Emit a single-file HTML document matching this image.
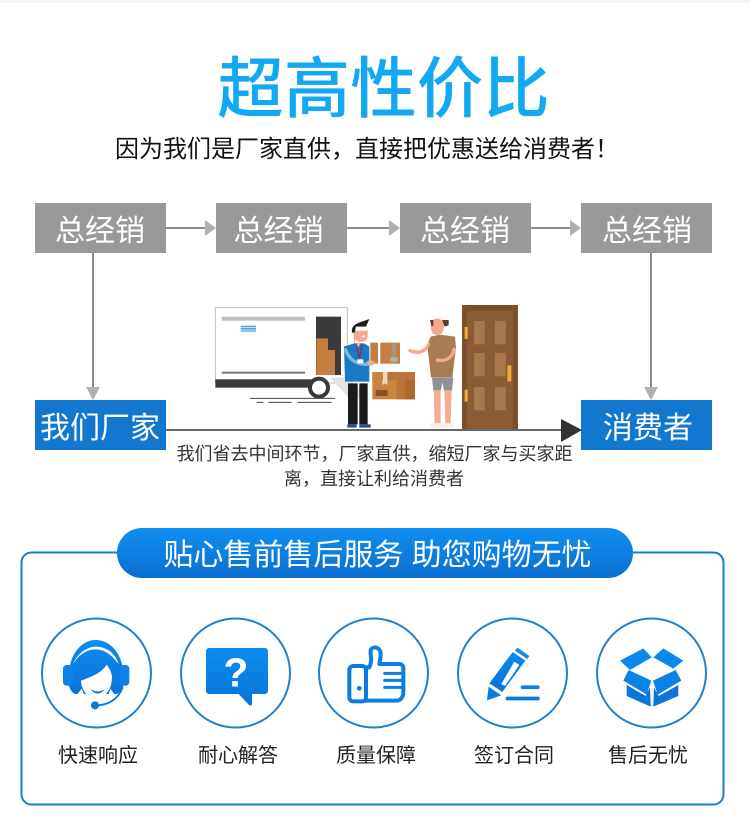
<!DOCTYPE html>
<html lang="zh"><head><meta charset="utf-8"><title>超高性价比</title>
<style>
html,body{margin:0;padding:0;background:#fff}
svg{display:block}
text{font-family:"Liberation Sans","Noto Sans CJK SC",sans-serif}
</style></head><body>
<svg width="750" height="822" viewBox="0 0 750 822" xmlns="http://www.w3.org/2000/svg">
<defs>
<linearGradient id="p" x1="0" y1="0" x2="0" y2="1"><stop offset="0" stop-color="#0f8ff0"/><stop offset="1" stop-color="#0a6fd0"/></linearGradient>
<linearGradient id="i" x1="0" y1="0" x2="0" y2="1"><stop offset="0" stop-color="#0a8df0"/><stop offset="1" stop-color="#0a72d8"/></linearGradient>
</defs>
<rect width="750" height="822" fill="#fff"/>
<rect width="750" height="3" fill="#f5f5f5"/>
<text x="383.500" y="112" text-anchor="middle" font-size="66.500" font-weight="500" fill="#12a9f2">超高性价比</text>
<text x="367" y="157" text-anchor="middle" font-size="24" fill="#111">因为我们是厂家直供，直接把优惠送给消费者！</text>

<g fill="#999"><rect x="35" y="203" width="131" height="50"/><rect x="216" y="203" width="131" height="50"/><rect x="400" y="203" width="131" height="50"/><rect x="581" y="203" width="131" height="50"/></g>
<g font-size="30" fill="#fff" text-anchor="middle"><text x="100" y="241">总经销</text><text x="278.500" y="241">总经销</text><text x="465" y="241">总经销</text><text x="647" y="241">总经销</text></g>
<g stroke="#8c8c8c" stroke-width="2" fill="none"><path d="M166 228H206M347 228H390M531 228H571M93 253V388M651 253V388"/></g>
<g fill="#b0b0b0"><path d="M205 220L216 228L205 236ZM389 220L400 228L389 236ZM570 220L581 228L570 236ZM86 387H100L93 400ZM644 387H658L651 400Z"/></g>

<g fill="#1177cf"><rect x="35" y="400" width="131" height="50"/><rect x="581" y="400" width="131" height="50"/></g>
<g font-size="30" fill="#fff" text-anchor="middle"><text x="100" y="438">我们厂家</text><text x="648" y="438">消费者</text></g>
<rect x="166" y="429" width="396" height="2" fill="#666"/>
<path d="M561 419L582 430L561 442Z" fill="#333"/>
<g font-size="18" fill="#333" text-anchor="middle"><text x="374.500" y="460">我们省去中间环节，厂家直供，缩短厂家与买家距</text><text x="374" y="485">离，直接让利给消费者</text></g>

<g transform="translate(200 295) scale(.3333)">
<rect x="46" y="38" width="396" height="226" fill="#fff" stroke="#bdbdbd" stroke-width="3"/>
<rect x="65" y="65" width="250" height="12" fill="#bfbfbf"/>
<rect x="122" y="92" width="46" height="5" fill="#5c9fd8"/><rect x="122" y="99" width="46" height="5" fill="#5c9fd8"/><rect x="122" y="106" width="46" height="4" fill="#5c9fd8"/>
<rect x="65" y="230" width="250" height="6" fill="#777"/>
<rect x="348" y="65" width="75" height="175" fill="#3a3a3a"/>
<path d="M349 130H384V165H405V240H349Z" fill="#c47e42"/>
<path d="M390 248H445L500 300V312H450Z" fill="#e4e4e4"/>
<rect x="46" y="253" width="310" height="25" fill="#3a3a3a"/>
<circle cx="357" cy="278" r="27" fill="#fff" stroke="#3a3a3a" stroke-width="12"/>
<path d="M150 310H405M170 322H190M205 322H275M293 322H395" stroke="#444" stroke-width="3"/>
<rect x="517" y="231" width="128" height="82" fill="#c9853f"/><rect x="590" y="231" width="25" height="82" fill="#bb7538"/><rect x="615" y="231" width="30" height="82" fill="#ac6a30"/><path d="M547 231H562V270L555 265 547 270Z" fill="#f0d9b5"/><rect x="527" y="285" width="36" height="18" fill="#8a4f25"/>
<path d="M444 265H473V388H444ZM478 265H503V388H478Z" fill="#1b1b1b"/>
<path d="M442 388H470V398H442ZM478 388H512V398H478Z" fill="#24508c"/>
<path d="M696 248H760L756 286H732L728 262 722 286H700Z" fill="#8e9294"/>
<path d="M701 286H722V385H704ZM733 286H755L752 385H736Z" fill="#f4ad92"/>
<path d="M692 385H724V398H692ZM726 385H760V398H726Z" fill="#f0f0f0"/>
<rect x="786" y="30" width="168" height="372" fill="#7a4f2a"/><rect x="801" y="48" width="138" height="354" fill="#8b5c33"/>
<g fill="#a9794e"><rect x="822" y="78" width="32" height="70"/><rect x="885" y="78" width="32" height="70"/><rect x="822" y="174" width="32" height="70"/><rect x="885" y="174" width="32" height="70"/><rect x="822" y="276" width="32" height="70"/><rect x="885" y="276" width="32" height="70"/></g>
<g fill="#f0ab3c"><rect x="794" y="96" width="9" height="36"/><rect x="794" y="284" width="9" height="36"/><rect x="922" y="211" width="12" height="48"/></g>
</g>

<g transform="translate(340 310) scale(.3333)">
<path d="M12 110L42 100H72L88 110V215H15Z" fill="#1a7bc4"/>
<path d="M15 115C28 155 60 170 100 160" stroke="#7db8e0" stroke-width="10" fill="none"/>
<path d="M40 62H84L82 85C76 98 55 98 45 88V100H42Z" fill="#f4a98c"/>
<path d="M44 100H62L55 112Z" fill="#f4a98c"/>
<path d="M36 68C32 40 60 38 88 27L78 50 48 50 44 68Z" fill="#1d1d1d"/>
<path d="M62 78L76 76 72 84Z" fill="#fff"/>
<path d="M48 100L58 145 66 100" stroke="#8c2e55" stroke-width="4" fill="none"/><rect x="52" y="148" width="18" height="12" fill="#fff"/>
<rect x="91" y="98" width="23" height="63" fill="#c47e42"/><rect x="121" y="98" width="59" height="63" fill="#c47e42"/><rect x="155" y="98" width="13" height="63" fill="#a8957c"/><rect x="151" y="142" width="22" height="13" fill="#b5b0a5"/>
<ellipse cx="92" cy="158" rx="12" ry="7" fill="#f4a98c"/>
<rect x="97" y="186" width="32" height="24" fill="#c9853f"/><rect x="143" y="186" width="82" height="24" fill="#bb7538"/>
<path d="M262 105L272 80 300 74 345 80 348 112 337 202H273Z" fill="#a67c52"/>
<path d="M266 103C252 130 230 130 210 122" stroke="#f4a98c" stroke-width="10" fill="none" stroke-linecap="round"/>
<path d="M342 118C338 142 318 156 292 150" stroke="#f4a98c" stroke-width="10" fill="none" stroke-linecap="round"/>
<path d="M278 72H306V58H278Z" fill="#f4a98c"/>
<ellipse cx="292" cy="50" rx="20" ry="25" fill="#f4a98c"/>
<path d="M270 30H280V48H274ZM306 30H326V46L314 50Z" fill="#5a3f2b"/>
</g>

<rect x="21.500" y="552.500" width="702" height="252" rx="10" fill="#fff" stroke="#1a7dc8" stroke-width="2"/>
<rect x="117" y="528" width="516" height="50" rx="25" fill="url(#p)"/>
<text x="377.500" y="565" text-anchor="middle" font-size="30" fill="#fff" xml:space="preserve">贴心售前售后服务 助您购物无忧</text>

<g fill="#fff" stroke="#2080c8" stroke-width="2"><circle cx="96.500" cy="673" r="54.500"/><circle cx="235.500" cy="673" r="54.500"/><circle cx="373.500" cy="673" r="54.500"/><circle cx="512.500" cy="673" r="54.500"/><circle cx="651.500" cy="673" r="54.500"/></g>

<g transform="translate(55 630) scale(.3333)">
<path d="M40 150C40 65 85 30 122 30C165 30 207 70 207 150C207 172 198 186 185 192H60C48 186 40 172 40 150Z" fill="url(#i)"/>
<rect x="24" y="105" width="30" height="62" rx="11" fill="#0a82e6"/><rect x="193" y="105" width="30" height="62" rx="11" fill="#0a82e6"/>
<path d="M54 102C70 66 100 50 122 50C150 50 180 66 191 102C170 74 148 58 122 58C95 58 72 74 54 102Z" fill="#fff"/>
<path d="M78 152C105 142 140 130 155 104C165 118 174 132 170 152C168 185 145 204 122 204C97 204 79 180 78 152Z" fill="#fff"/>
<path d="M68 192L80 176 90 200ZM178 192L166 176 158 202Z" fill="#fff"/>
<path d="M105 176C118 196 138 196 150 176C138 187 118 187 105 176Z" fill="#0a78dc"/>
<path d="M120 226C155 226 188 212 203 172" fill="none" stroke="#0a7ce0" stroke-width="6"/><circle cx="120" cy="226" r="12" fill="#0a78dc"/>
</g>

<g transform="translate(20 610) scale(.3333)">
<path d="M568 114H734C740 114 744 118 744 124V242C744 248 740 252 734 252H696V286H688L656 252H568C562 252 558 248 558 242V124C558 118 562 114 568 114Z" fill="url(#i)"/>
<text x="648" y="229" text-anchor="middle" font-size="122" font-weight="700" fill="#fff">?</text>
</g>

<g transform="translate(340 640) scale(.3333)">
<path d="M75 82H88C98 62 90 44 92 30C100 16 122 22 122 42C122 52 120 62 118 72H178C186 72 190 78 190 86V158C190 172 180 182 170 182H75Z" fill="#fff" stroke="#0a80e4" stroke-width="12" stroke-linejoin="round"/>
<rect x="28" y="78" width="50" height="106" rx="12" fill="#fff" stroke="#0a7ce0" stroke-width="12"/>
<path d="M134 100H186M134 121H186M134 142H186" stroke="#0a80e4" stroke-width="9" stroke-linecap="round"/>
<circle cx="58" cy="145" r="7" fill="#0a78dc"/>
</g>

<g transform="translate(300 610) scale(.3333)">
<path d="M652 113L688 138 682 147 645 122ZM638 126L676 152 607 246 568 220Z" fill="url(#i)"/>
<path d="M643 155L658 165 615 228 604 222Z" fill="#fff"/>
<path d="M566 230L604 256 561 271Z" fill="#0a7ee2"/>
<rect x="662" y="226" width="57" height="11" rx="5" fill="#0a82e4"/><rect x="617" y="260" width="102" height="11" rx="5" fill="#0a78dc"/>
</g>

<g transform="translate(610 640) scale(.3333)">
<path d="M30 62L100 25 125 52 60 90ZM130 52L160 25 220 62 190 86Z" fill="#0a88ec"/>
<path d="M56 90L124 122 110 164 40 122ZM197 90L129 122 143 164 214 122Z" fill="#0a82e6"/>
<path d="M50 135L107 168 120 142 122 200 50 168ZM205 135L146 168 132 142 130 200 205 168Z" fill="#0a76da"/>
<path d="M126 135V198" stroke="#bfe3fa" stroke-width="2"/>
</g>

<g font-size="20" fill="#222" text-anchor="middle"><text x="98" y="762">快速响应</text><text x="238" y="762">耐心解答</text><text x="376" y="762">质量保障</text><text x="514" y="762">签订合同</text><text x="648" y="762">售后无忧</text></g>
</svg>
</body></html>
